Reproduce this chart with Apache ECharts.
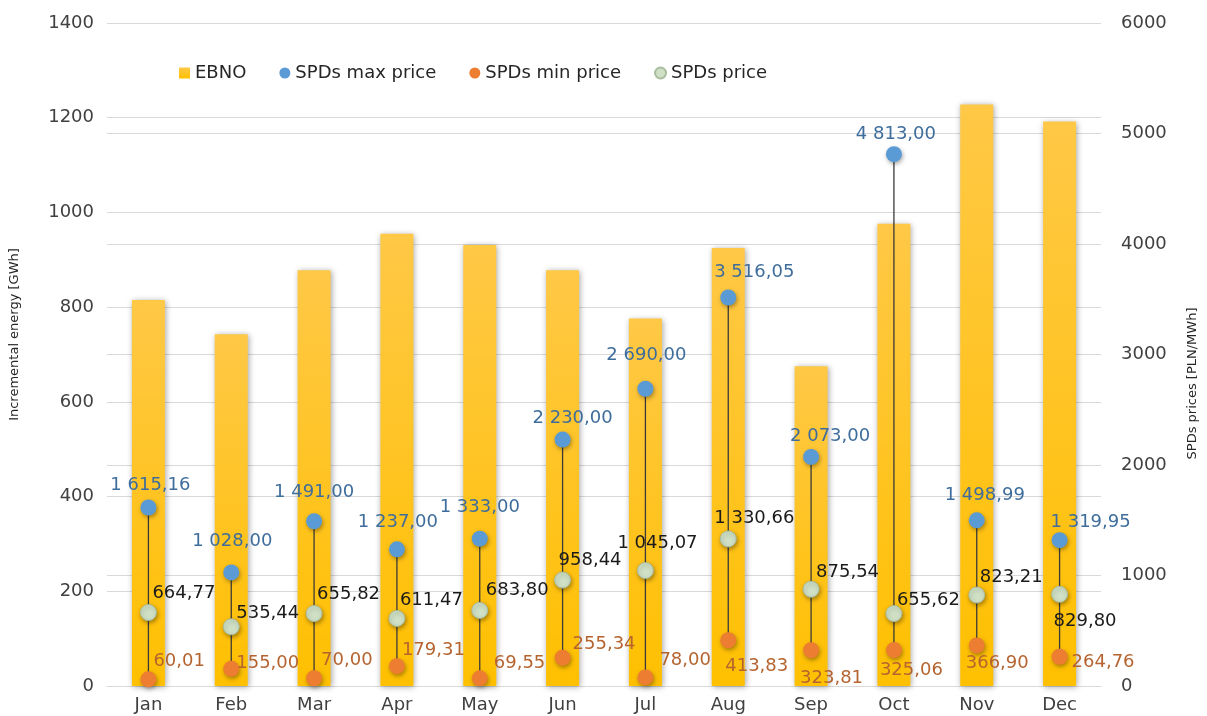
<!DOCTYPE html>
<html>
<head>
<meta charset="utf-8">
<script src="https://cdn.jsdelivr.net/npm/echarts@6/dist/echarts.min.js"></script>
<style>
  html, body { margin: 0; padding: 0; background: #fff; }
  #main { width: 1207px; height: 716px; }
</style>
</head>
<body>
<div id="main"></div>
<script>
// chart data
var months = ['Jan', 'Feb', 'Mar', 'Apr', 'May', 'Jun', 'Jul', 'Aug', 'Sep', 'Oct', 'Nov', 'Dec'];
var ebno = [815, 743, 878, 955, 931, 878, 776, 925, 675, 976, 1228, 1192];
var maxPrice = [1615.16, 1028.00, 1491.00, 1237.00, 1333.00, 2230.00, 2690.00, 3516.05, 2073.00, 4813.00, 1498.99, 1319.95];
var minPrice = [60.01, 155.00, 70.00, 179.31, 69.55, 255.34, 78.00, 413.83, 323.81, 325.06, 366.90, 264.76];
var spdPrice = [664.77, 535.44, 655.82, 611.47, 683.80, 958.44, 1045.07, 1330.66, 875.54, 655.62, 823.21, 829.80];

// label placement (pixel offsets from point centre)
var maxOff = [[2,-22],[1,-31],[0,-29],[1,-27],[0,-31],[10,-21],[1,-33],[26,-25],[19,-21],[2,-20],[8,-25],[31,-18]];
var priceOff = [[4,-19],[5,-14],[3,-19],[3,-18],[6,-20],[-4,-20],[-28,-27],[-14,-21],[5,-17],[3,-13],[3,-18],[-6,27]];
var minOff = [[5,-18],[5,-6],[7,-18],[5,-16],[14,-15],[10,-13],[14,-17],[-3,26],[-11,28],[-14,20],[-11,18],[12,6]];

function fmt(v) {
    var s = v.toFixed(2).split('.');
    return s[0].replace(/\B(?=(\d{3})+(?!\d))/g, ' ') + ',' + s[1];
}

var font = 'DejaVu Sans';
var chart = echarts.init(document.getElementById('main'));

function pts(vals, offs) {
    return vals.map(function (v, i) {
        return { value: v, label: { offset: offs[i] } };
    });
}

var pointShadow = { opacity: 1, shadowBlur: 4, shadowColor: 'rgba(0,0,0,0.35)', shadowOffsetX: 1, shadowOffsetY: 2 };

var option = {
    animation: false,
    textStyle: { fontFamily: font },
    grid: { left: 106, right: 97, top: 23, bottom: 30 },
    legend: {
        left: 174, top: 59,
        itemWidth: 11, itemHeight: 11, itemGap: 33,
        textStyle: { fontFamily: font, fontSize: 18, color: '#262626' },
        data: [
            { name: 'EBNO', icon: 'rect' },
            { name: 'SPDs max price', icon: 'circle' },
            { name: 'SPDs min price', icon: 'circle' },
            { name: 'SPDs price', icon: 'circle' }
        ]
    },
    xAxis: {
        type: 'category',
        data: months,
        axisLine: { lineStyle: { color: '#d9d9d9' } },
        axisTick: { show: false },
        axisLabel: { color: '#404040', fontSize: 18, margin: 10, fontFamily: font }
    },
    yAxis: [{
        type: 'value', min: 0, max: 1400, interval: 200,
        name: 'Incremental energy [GWh]', nameLocation: 'middle', nameGap: 86, nameRotate: 90,
        nameTextStyle: { color: '#262626', fontSize: 13, fontFamily: font, padding: [0, 0, 0, 40] },
        axisLabel: { color: '#404040', fontSize: 18, margin: 13, fontFamily: font, formatter: function (v) { return String(v); } },
        splitLine: { lineStyle: { color: '#d9d9d9' } }
    }, {
        type: 'value', min: 0, max: 6000, interval: 1000, position: 'right',
        name: 'SPDs prices [PLN/MWh]', nameLocation: 'middle', nameGap: 85, nameRotate: 90,
        nameTextStyle: { color: '#262626', fontSize: 13, fontFamily: font, padding: [0, 58, 0, 0] },
        axisLabel: { color: '#404040', fontSize: 18, margin: 20, fontFamily: font, formatter: function (v) { return String(v); } },
        splitLine: { show: true, lineStyle: { color: '#d9d9d9' } }
    }],
    series: [{
        name: 'EBNO',
        type: 'bar',
        data: ebno,
        barWidth: 33,
        z: 1,
        itemStyle: {
            color: new echarts.graphic.LinearGradient(0, 0, 0, 1, [
                { offset: 0, color: '#FFC846' },
                { offset: 1, color: '#FFC000' }
            ]),
            shadowBlur: 6, shadowColor: 'rgba(0,0,0,0.35)', shadowOffsetX: 1, shadowOffsetY: 1
        }
    }, {
        name: 'hilo',
        type: 'custom',
        yAxisIndex: 1,
        z: 3,
        data: months.map(function (m, i) { return [i, minPrice[i], maxPrice[i]]; }),
        renderItem: function (params, api) {
            var a = api.coord([api.value(0), api.value(1)]);
            var b = api.coord([api.value(0), api.value(2)]);
            return {
                type: 'line',
                shape: { x1: a[0], y1: a[1], x2: b[0], y2: b[1] },
                style: { stroke: '#3a3a3a', lineWidth: 1.3 }
            };
        }
    }, {
        name: 'SPDs max price',
        type: 'scatter',
        yAxisIndex: 1,
        z: 5,
        symbolSize: 16,
        itemStyle: Object.assign({ color: '#5B9BD5' }, pointShadow),
        label: {
            show: true, position: 'inside', align: 'center', verticalAlign: 'middle',
            color: '#3E6D9C', fontSize: 18, fontFamily: font,
            formatter: function (p) { return fmt(p.value); }
        },
        data: pts(maxPrice, maxOff)
    }, {
        name: 'SPDs min price',
        type: 'scatter',
        yAxisIndex: 1,
        z: 5,
        symbolSize: 16,
        itemStyle: Object.assign({ color: '#ED7D31' }, pointShadow),
        label: {
            show: true, position: 'inside', align: 'left', verticalAlign: 'middle',
            color: '#B5642F', fontSize: 18, fontFamily: font,
            formatter: function (p) { return fmt(p.value); }
        },
        data: pts(minPrice, minOff)
    }, {
        name: 'SPDs price',
        type: 'scatter',
        yAxisIndex: 1,
        z: 5,
        symbolSize: 16,
        itemStyle: Object.assign({ color: '#CFE0C5', borderColor: '#A9BC9E', borderWidth: 1 }, pointShadow),
        label: {
            show: true, position: 'inside', align: 'left', verticalAlign: 'middle',
            color: '#1a1a1a', fontSize: 18, fontFamily: font,
            formatter: function (p) { return fmt(p.value); }
        },
        data: pts(spdPrice, priceOff)
    }]
};

chart.setOption(option);
</script>
</body>
</html>
